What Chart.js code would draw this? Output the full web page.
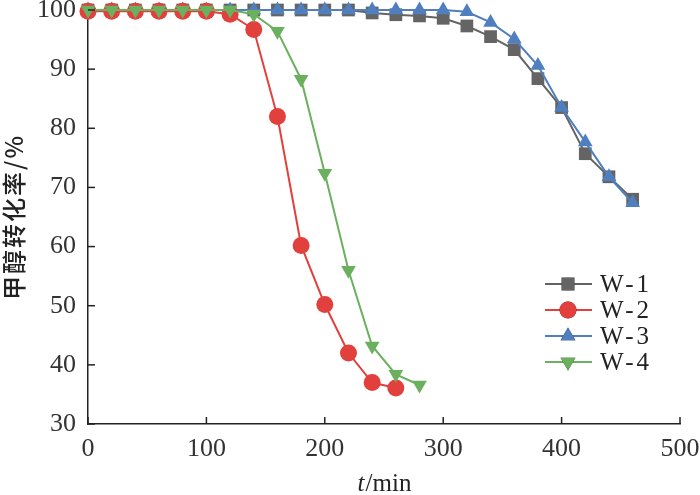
<!DOCTYPE html>
<html>
<head>
<meta charset="utf-8">
<script src="https://cdn.jsdelivr.net/npm/chart.js@4/dist/chart.umd.min.js"></script>
<style>
html, body { margin: 0; padding: 0; background: #fff; }
</style>
</head>
<body>
<canvas id="diagram" width="700" height="495"></canvas>
<script>
// Data lese av frå figuren
var tider = [0, 20, 40, 60, 80, 100, 120, 140, 160, 180, 200, 220, 240, 260, 280, 300, 320, 340, 360, 380, 400, 420, 440, 460];
var namn = ['W-1', 'W-2', 'W-3', 'W-4'];
var w1 = [100, 100, 100, 100, 100, 100, 100, 100, 100, 100, 100, 100, 99.5, 99.2, 99.0, 98.6, 97.3, 95.5, 93.3, 88.4, 83.5, 75.7, 71.8, 68.0];
var w2 = [99.8, 99.8, 99.8, 99.8, 99.8, 99.8, 99.3, 96.7, 82.0, 60.2, 50.2, 42.0, 37.0, 36.1];
var w3 = [100, 100, 100, 100, 100, 100, 100, 100, 100, 100, 100, 100, 100, 100, 100, 100, 99.7, 97.9, 95.1, 90.6, 83.5, 77.7, 71.8, 67.4];
var w4 = [100, 100, 100, 100, 100, 100, 100, 99.3, 96.4, 88.3, 72.4, 56.0, 43.2, 38.4, 36.6];
var xTicks = [0, 100, 200, 300, 400, 500];
var yTicks = [30, 40, 50, 60, 70, 80, 90, 100];

var farge = ['#646464', '#e2403d', '#4f7fbf', '#6bb05e'];
var serif = "'Liberation Serif', 'DejaVu Serif', serif";

function punkt(verdiar) {
    var ut = [];
    for (var i = 0; i < verdiar.length; i++) {
        ut.push({ x: tider[i], y: verdiar[i] });
    }
    return ut;
}

// Innovervende tick-merke, aksetitlar og forklaring
var ekstra = {
    id: 'ekstra',
    afterDraw: function (chart) {
        var ctx = chart.ctx;
        var xs = chart.scales.x, ys = chart.scales.y;
        var area = chart.chartArea;
        ctx.save();
        ctx.strokeStyle = '#222';
        ctx.lineWidth = 1.5;
        for (var i = 0; i < xTicks.length; i++) {
            var px = xs.getPixelForValue(xTicks[i]);
            ctx.beginPath();
            ctx.moveTo(px, area.bottom);
            ctx.lineTo(px, area.bottom - 7);
            ctx.stroke();
        }
        for (var j = 0; j < yTicks.length; j++) {
            var py = ys.getPixelForValue(yTicks[j]);
            ctx.beginPath();
            ctx.moveTo(area.left, py);
            ctx.lineTo(area.left + 7, py);
            ctx.stroke();
        }

        // x-tittel: t/min
        ctx.fillStyle = '#222';
        ctx.textBaseline = 'alphabetic';
        ctx.font = 'italic 25px ' + serif;
        var tW = ctx.measureText('t').width;
        ctx.font = '25px ' + serif;
        var rW = ctx.measureText('/min').width;
        var start = (area.left + area.right) / 2 - (tW + rW) / 2;
        ctx.font = 'italic 25px ' + serif;
        ctx.textAlign = 'left';
        ctx.fillText('t', start, 491);
        ctx.font = '25px ' + serif;
        ctx.fillText('/min', start + tW + 1, 491);

        // y-tittel
        ctx.save();
        ctx.translate(14, (area.top + area.bottom) / 2);
        ctx.rotate(-Math.PI / 2);
        ctx.textAlign = 'center';
        ctx.textBaseline = 'middle';
        ctx.font = "500 24px 'Noto Sans CJK SC'";
        ctx.letterSpacing = '2px';
        ctx.fillText('甲醇转化率/%', 0, 0);
        ctx.restore();

        // forklaring
        var ly = [284, 310, 336, 362];
        for (var k = 0; k < chart.data.datasets.length; k++) {
            var ds = chart.data.datasets[k];
            ctx.strokeStyle = ds.borderColor;
            ctx.lineWidth = 2;
            ctx.beginPath();
            ctx.moveTo(545, ly[k]);
            ctx.lineTo(592, ly[k]);
            ctx.stroke();
            Chart.helpers.drawPoint(ctx, {
                pointStyle: ds.pointStyle,
                rotation: ds.pointRotation || 0,
                radius: ds.pointRadius,
                borderWidth: 0
            }, 568, ly[k]);
            ctx.fillStyle = ds.backgroundColor;
            ctx.fill();
            ctx.fillStyle = '#222';
            ctx.font = '25px ' + serif;
            ctx.textAlign = 'left';
            ctx.textBaseline = 'middle';
            ctx.letterSpacing = '3px';
            ctx.fillText(namn[k], 600, ly[k] + 1);
            ctx.letterSpacing = '0px';
        }
        ctx.restore();
    }
};

var stilar = ['rect', 'circle', 'triangle', 'triangle'];
var radiusar = [9, 8.5, 8.5, 8.5];
var rotasjon = [0, 0, 0, 180];
var rekkjer = [w1, w2, w3, w4];
var rekkjefolgje = [4, 2, 3, 1];
var datasett = [];
for (var n = 0; n < rekkjer.length; n++) {
    datasett.push({
        label: namn[n],
        data: punkt(rekkjer[n]),
        borderColor: farge[n],
        backgroundColor: farge[n],
        borderWidth: 2,
        pointStyle: stilar[n],
        pointRadius: radiusar[n],
        pointHoverRadius: radiusar[n],
        pointRotation: rotasjon[n],
        pointBorderWidth: 0,
        tension: 0,
        clip: false,
        order: rekkjefolgje[n]
    });
}

new Chart(document.getElementById('diagram').getContext('2d'), {
    type: 'line',
    data: { datasets: datasett },
    plugins: [ekstra],
    options: {
        responsive: false,
        animation: false,
        layout: { padding: { top: 10, right: 20, left: 0, bottom: 0 } },
        plugins: {
            legend: { display: false },
            tooltip: { enabled: false }
        },
        scales: {
            x: {
                type: 'linear',
                min: 0,
                max: 500,
                afterBuildTicks: function (s) { s.ticks = xTicks.map(function (v) { return { value: v }; }); },
                afterFit: function (s) { s.height = 71; s.paddingLeft = 0; s.paddingRight = 0; },
                grid: { display: false, drawTicks: false },
                border: { display: true, color: '#222', width: 1.5 },
                ticks: { color: '#333', padding: 10, font: { family: serif, size: 26 } }
            },
            y: {
                type: 'linear',
                min: 30,
                max: 100,
                afterBuildTicks: function (s) { s.ticks = yTicks.map(function (v) { return { value: v }; }); },
                afterFit: function (s) { s.width = 88; s.paddingTop = 0; s.paddingBottom = 0; },
                grid: { display: false, drawTicks: false },
                border: { display: true, color: '#222', width: 1.5 },
                ticks: { color: '#333', padding: 12, font: { family: serif, size: 26 } }
            }
        }
    }
});
</script>
</body>
</html>
